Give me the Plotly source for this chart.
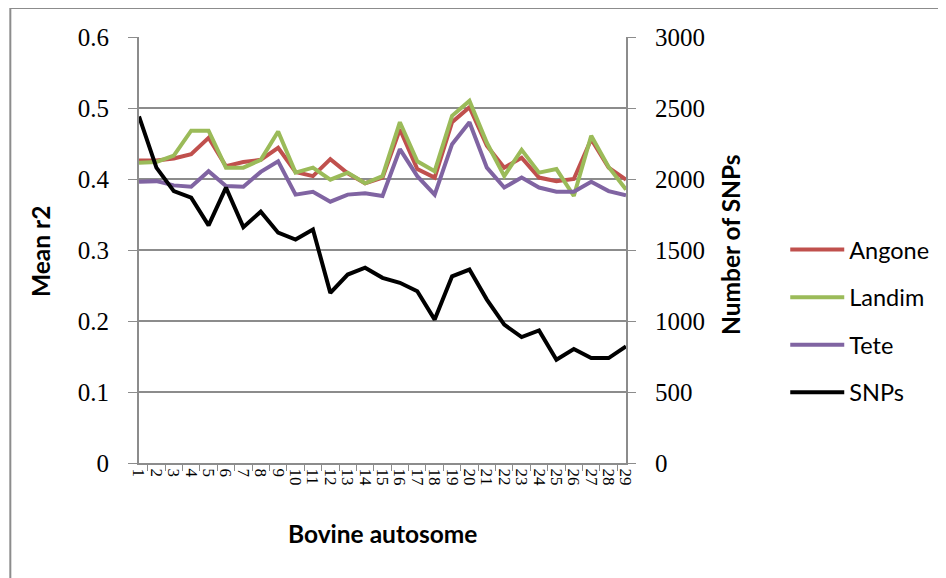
import plotly.graph_objects as go

chromosomes = [str(i) for i in range(1, 30)]
angone = [0.426, 0.426, 0.429, 0.435, 0.458, 0.418, 0.424, 0.427, 0.444, 0.410,
          0.404, 0.428, 0.408, 0.394, 0.402, 0.470, 0.414, 0.402, 0.480, 0.501,
          0.447, 0.416, 0.430, 0.402, 0.397, 0.400, 0.456, 0.416, 0.399]
landim = [0.423, 0.424, 0.433, 0.468, 0.468, 0.416, 0.416, 0.427, 0.467, 0.409,
          0.416, 0.399, 0.409, 0.394, 0.404, 0.480, 0.425, 0.411, 0.489, 0.510,
          0.451, 0.404, 0.441, 0.409, 0.414, 0.376, 0.461, 0.417, 0.385]
tete = [0.396, 0.397, 0.391, 0.389, 0.411, 0.390, 0.389, 0.410, 0.425, 0.378,
        0.382, 0.368, 0.378, 0.380, 0.376, 0.442, 0.404, 0.378, 0.449, 0.480,
        0.416, 0.388, 0.402, 0.388, 0.382, 0.382, 0.396, 0.383, 0.377]
snps = [2441, 2080, 1915, 1869, 1673, 1939, 1661, 1770, 1622, 1574,
        1645, 1198, 1327, 1375, 1304, 1269, 1209, 1010, 1315, 1362,
        1151, 974, 887, 934, 727, 803, 739, 739, 821]

series = [("Angone", angone, "#C0504D", "y"),
          ("Landim", landim, "#9BBB59", "y"),
          ("Tete", tete, "#8064A2", "y"),
          ("SNPs", snps, "#000000", "y2")]

fig = go.Figure()
for i, (name, vals, col, ax) in enumerate(series):
    fig.add_trace(go.Scatter(x=chromosomes, y=vals, name=name, mode="lines",
                             line=dict(color=col, width=4), yaxis=ax,
                             legendgroup="g%d" % i))

grid = "#8C8C8C"
tickfont = dict(family="Liberation Serif", size=25, color="#000000")
fig.update_layout(
    width=938, height=570,
    margin=dict(l=131, r=315, t=29, b=115),
    paper_bgcolor="white", plot_bgcolor="white",
    showlegend=True,
    legend=dict(x=1.327, y=0.552, xanchor="left", yanchor="top",
                font=dict(family="Lato", size=23.5, color="#000000"),
                tracegroupgap=14, itemwidth=54, bgcolor="rgba(0,0,0,0)"),
    xaxis=dict(type="category", tickson="boundaries", ticks="outside", ticklen=6,
               tickmode="array", tickvals=chromosomes, ticktext=chromosomes,
               tickcolor=grid, showline=True, linecolor=grid, linewidth=2,
               showgrid=False, tickangle=90, automargin=False,
               tickfont=dict(family="Liberation Serif", size=17, color="#000000")),
    yaxis=dict(range=[0, 0.6], dtick=0.1, tickformat=".1~f", ticks="outside", ticklen=9,
               tickcolor=grid, showline=True, linecolor=grid, linewidth=2,
               showgrid=True, gridcolor=grid, gridwidth=1.5, zeroline=False,
               tickfont=tickfont, ticklabelstandoff=14, automargin=False),
    yaxis2=dict(range=[0, 3000], dtick=500, overlaying="y", side="right",
                ticks="outside", ticklen=8, tickcolor=grid, showline=True,
                linecolor=grid, linewidth=2, showgrid=False, zeroline=False,
                tickfont=tickfont, ticklabelstandoff=14, automargin=False),
)

title_font = dict(family="Lato", size=24.5, color="#000000", weight="bold")
common = dict(xref="paper", yref="paper", showarrow=False, font=title_font,
              xanchor="center", yanchor="middle")
fig.add_annotation(text="Mean r2", x=(39 - 139) / 492, y=(463 - 252) / 426,
                   textangle=-90, **common)
fig.add_annotation(text="Number of SNPs", x=(736 - 139) / 492, y=(463 - 244) / 426,
                   textangle=-90, **common)
fig.add_annotation(text="Bovine autosome", x=(385 - 139) / 492, y=(463 - 533) / 426,
                   **common)

fig.add_shape(type="rect", xref="paper", yref="paper",
              x0=(9 - 139) / 492, x1=(960 - 139) / 492,
              y0=(463 - 590) / 426, y1=(463 - 8) / 426,
              line=dict(color="#8C8C8C", width=2), fillcolor="rgba(0,0,0,0)", layer="below")

fig.write_html("out.html", config={"displayModeBar": False})
